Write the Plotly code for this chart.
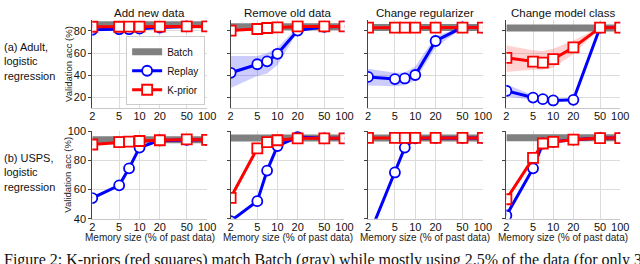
import math
import plotly.graph_objects as go

W, H = 640, 264

memory = [2, 5, 7, 10, 20, 50, 100]
tick_vals = [2, 5, 10, 20, 50, 100]
tick_text = ["2", "5", "10", "20", "50", "100"]

col_titles = ["Add new data", "Remove old data", "Change regularizer", "Change model class"]
row_labels = ["(a) Adult,<br>logistic<br>regression", "(b) USPS,<br>logistic<br>regression"]

# ---- Top row: Adult, logistic regression ----
adult_batch = [85.5, 83.8, 83.0, 82.6]
adult_replay = [
    [81.0, 81.5, 81.5, 82.0, 83.0, 84.0, 84.0],
    [42.3, 50.0, 52.6, 59.4, 80.3, 83.7, 84.0],
    [38.6, 36.6, 37.2, 40.3, 70.9, 83.2, 83.0],
    [26.0, 20.0, 18.6, 17.4, 18.0, 83.0, 83.0],
]
adult_replay_lo = [
    None,
    [28.6, 39.5, 41.7, 49.4, 79.4, 83.5, 84.0],
    [30.9, 30.3, 31.0, 35.4, 65.1, 82.5, 83.0],
    [21.0, 18.0, 17.8, 17.4, 18.0, 83.0, 83.0],
]
adult_replay_hi = [
    None,
    [57.4, 57.4, 60.0, 65.1, 83.2, 84.0, 84.0],
    [46.0, 42.3, 42.5, 48.0, 75.1, 83.8, 83.0],
    [32.0, 22.0, 19.5, 17.4, 18.0, 83.0, 83.0],
]
adult_kprior = [
    [83.7, 83.7, 83.8, 83.8, 83.9, 84.0, 84.0],
    [80.3, 81.7, 82.6, 83.2, 84.0, 84.0, 84.0],
    [82.9, 83.0, 83.0, 83.0, 83.0, 83.0, 83.0],
    [55.7, 52.3, 51.4, 54.6, 65.1, 82.9, 83.0],
]
adult_kprior_lo = [None, None, None, [43.0, 45.0, 45.0, 47.0, 59.0, 82.5, 83.0]]
adult_kprior_hi = [None, None, None, [67.0, 62.5, 62.0, 64.0, 71.4, 83.3, 83.0]]

# ---- Bottom row: USPS, logistic regression ----
usps_batch = [94.1, 95.2, 95.3, 95.4]
usps_replay = [
    [54.2, 62.9, 74.5, 88.7, 93.6, 94.0, 94.0],
    [38.5, 52.1, 73.0, 89.8, 95.9, 95.0, 95.0],
    [27.0, 71.7, 88.7, 95.0, 95.3, 95.3, 95.3],
    [42.3, 74.5, 91.5, 92.6, 94.1, 95.2, 95.2],
]
usps_kprior = [
    [90.8, 92.4, 92.8, 93.2, 93.7, 94.3, 94.0],
    [54.4, 88.2, 92.4, 93.7, 95.0, 95.0, 95.0],
    [95.3, 95.3, 95.3, 95.3, 95.3, 95.3, 95.3],
    [53.4, 81.7, 91.5, 92.6, 94.1, 95.2, 95.2],
]

# ---- layout geometry (pixels) ----
col_px = [(91, 208), (232, 348), (372, 489), (513, 629)]
row_px = [(15, 107), (131, 223)]
y_ranges = [[10.5, 89.5], [40, 100]]
y_ticks = [[20, 40, 60, 80], [40, 60, 80, 100]]

FONT = "Liberation Sans, Arial, sans-serif"
BLUE = "#0000ff"
RED = "#ff0000"
GRAY = "#808080"

fig = go.Figure()
layout = {}

rows = [
    (adult_batch, adult_replay, adult_replay_lo, adult_replay_hi, adult_kprior, adult_kprior_lo, adult_kprior_hi),
    (usps_batch, usps_replay, [None] * 4, [None] * 4, usps_kprior, [None] * 4, [None] * 4),
]

def band(lo, hi, color, xa, ya):
    fig.add_trace(go.Scatter(x=memory, y=lo, mode="lines", line=dict(width=0, color=color),
                             showlegend=False, hoverinfo="skip", xaxis=xa, yaxis=ya))
    fig.add_trace(go.Scatter(x=memory, y=hi, mode="lines", line=dict(width=0, color=color),
                             fill="tonexty", fillcolor=color, showlegend=False,
                             hoverinfo="skip", xaxis=xa, yaxis=ya))

idx = 0
for r, (batch, rep, rep_lo, rep_hi, kp, kp_lo, kp_hi) in enumerate(rows):
    for c in range(4):
        idx += 1
        xa = "x" if idx == 1 else f"x{idx}"
        ya = "y" if idx == 1 else f"y{idx}"
        first = (idx == 1)
        x0, x1 = col_px[c]
        y0, y1 = row_px[r]
        layout["xaxis" if idx == 1 else f"xaxis{idx}"] = dict(
            type="log", range=[math.log10(2), 2], domain=[x0 / W, x1 / W],
            anchor=ya, tickvals=tick_vals, ticktext=tick_text, showgrid=True,
            gridcolor="#dcdcdc", gridwidth=1, zeroline=False, showline=True,
            linecolor="#c8c8c8", linewidth=1, ticks="", ticklen=0,
            ticklabelstandoff=-2,
            tickfont=dict(family=FONT, size=11, color="#111"),
        )
        layout["yaxis" if idx == 1 else f"yaxis{idx}"] = dict(
            range=y_ranges[r], domain=[1 - y1 / H, 1 - y0 / H], anchor=xa,
            tickvals=y_ticks[r], showticklabels=(c == 0), showgrid=True,
            gridcolor="#dcdcdc", gridwidth=1, zeroline=False, showline=True,
            linecolor="#444", linewidth=1, ticks="outside", ticklen=3,
            tickcolor="#444", tickfont=dict(family=FONT, size=11, color="#111"),
        )
        # batch reference
        fig.add_trace(go.Scatter(x=[memory[0], memory[-1]], y=[batch[c], batch[c]], mode="lines",
                                 line=dict(color=GRAY, width=7), name="Batch", showlegend=first,
                                 xaxis=xa, yaxis=ya))
        if rep_lo[c] is not None:
            band(rep_lo[c], rep_hi[c], "rgba(0,0,255,0.2)", xa, ya)
        if kp_lo[c] is not None:
            band(kp_lo[c], kp_hi[c], "rgba(255,0,0,0.18)", xa, ya)
        fig.add_trace(go.Scatter(x=memory, y=rep[c], mode="lines+markers", name="Replay",
                                 line=dict(color=BLUE, width=3),
                                 marker=dict(symbol="circle", size=10, color="white",
                                             line=dict(color=BLUE, width=1.8)),
                                 showlegend=first, xaxis=xa, yaxis=ya))
        fig.add_trace(go.Scatter(x=memory, y=kp[c], mode="lines+markers", name="K-prior",
                                 line=dict(color=RED, width=3),
                                 marker=dict(symbol="square", size=10, color="white",
                                             line=dict(color=RED, width=1.8)),
                                 showlegend=first, xaxis=xa, yaxis=ya))

annotations = []
for c, t in enumerate(col_titles):
    x0, x1 = col_px[c]
    annotations.append(dict(text=t, x=(x0 + x1) / 2 / W, y=1 - 7 / H, xref="paper", yref="paper",
                            xanchor="center", yanchor="middle", showarrow=False,
                            font=dict(family=FONT, size=11.5, color="#111")))
    annotations.append(dict(text="Memory size (% of past data)", x=(x0 + x1) / 2 / W, y=1 - 243 / H,
                            xref="paper", yref="paper", xanchor="center", yanchor="middle",
                            showarrow=False, font=dict(family=FONT, size=10, color="#222")))
for r, lab in enumerate(row_labels):
    y0, y1 = row_px[r]
    annotations.append(dict(text=lab, x=0, y=1 - ((y0 + y1) / 2 - 3) / H, xref="paper", yref="paper",
                            xanchor="left", yanchor="middle", align="left", showarrow=False,
                            borderpad=0,
                            font=dict(family=FONT, size=11, color="#111")))
    annotations.append(dict(text="Validation acc (%)", x=66 / W, y=1 - (y0 + y1) / 2 / H,
                            xref="paper", yref="paper", xanchor="center", yanchor="middle",
                            textangle=-90, showarrow=False,
                            font=dict(family=FONT, size=9.5, color="#222")))
annotations.append(dict(
    text="Figure 2: K-priors (red squares) match Batch (gray) while mostly using 2.5% of the data (for only 3",
    x=0, y=1 - 256 / H, xref="paper", yref="paper", xanchor="left", yanchor="top",
    showarrow=False, borderpad=0, font=dict(family="Liberation Serif, Times New Roman, serif", size=16, color="#111")))

fig.update_layout(
    **layout,
    annotations=annotations,
    width=W, height=H, margin=dict(l=0, r=0, t=0, b=0),
    paper_bgcolor="white", plot_bgcolor="white",
    legend=dict(x=206 / W, xanchor="right", y=1 - 104 / H, yanchor="bottom",
                bgcolor="rgba(255,255,255,0.9)", bordercolor="#cccccc", borderwidth=1,
                font=dict(family=FONT, size=10, color="#111"), itemwidth=30,
                tracegroupgap=0, traceorder="normal"),
    showlegend=True,
)

fig.write_html("out.html", config={"displayModeBar": False},
               post_script="document.body.style.margin='0px';")
